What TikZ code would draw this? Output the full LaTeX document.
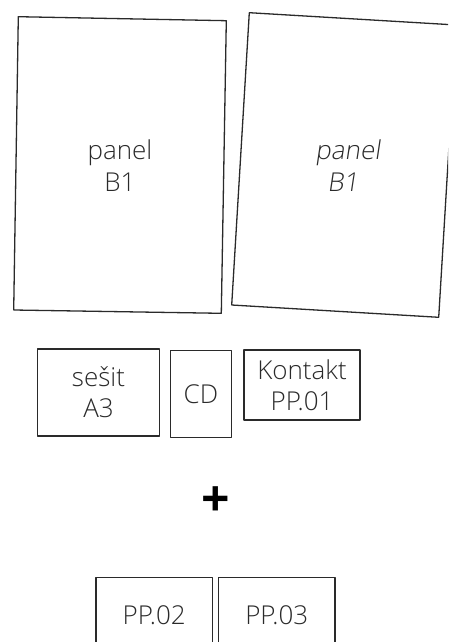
\documentclass[tikz,border=0pt]{standalone}
\usepackage{fontspec}
\setmainfont{Open Sans Light}
\newfontfamily\plusfont{Open Sans Bold}
\usepackage{color}
\definecolor{ink}{HTML}{2A2A2A}

\tikzset{
    sheet/.style={draw=ink,line width=1.3pt},
    label/.style={text=ink,align=center,anchor=base,font=\fontsize{26}{32}\selectfont},
    itembox/.style={draw=ink,line width=1.3pt,text=ink,align=center,inner sep=0pt,font=\fontsize{26}{31}\selectfont}
}

\begin{document}
\begin{tikzpicture}[line cap=round,line join=round,x=1.0pt,y=-1.0pt]
    \useasboundingbox (0,0) rectangle (448,642);
    \clip (0,0) rectangle (448,642);
    \draw[sheet] (18.3,16.7) -- (226.3,20.7) -- (221.3,313.3) -- (13.7,310) -- cycle;
    \node [label] (panelA) at (120,191.7) {panel\\B1};
    \draw[sheet] (249.3,12.7) -- (456.3,25) -- (438.7,317.3) -- (231.7,305) -- cycle;
    \node [label,xslant=0.15] (panelB) at (343,191.7) {panel\\B1};
    \node [itembox,minimum width=121.6pt,minimum height=87pt] (sesit) at (98.5,392.5) {sešit\\A3};
    \node [itembox,minimum width=60.6pt,minimum height=86.6pt] (cd) at (201,394) {CD};
    \node [itembox,minimum width=116pt,minimum height=70pt] (kontakt) at (302,385) {Kontakt\\PP.01};
    \node [text=black,font=\plusfont\fontsize{50}{50}\selectfont] (plus) at (216,502) {+};
    \node [itembox,minimum width=116.3pt,minimum height=75.4pt] (pp02) at (154.2,615) {PP.02};
    \node [itembox,minimum width=116.7pt,minimum height=75.4pt] (pp03) at (276.7,615) {PP.03};
\end{tikzpicture}
\end{document}
